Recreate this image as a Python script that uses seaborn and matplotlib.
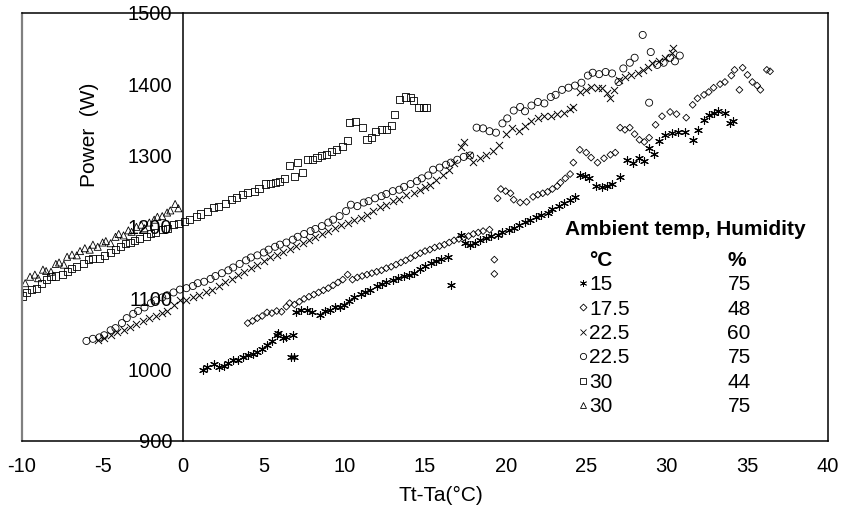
import numpy as np
import pandas as pd
import seaborn as sns
import matplotlib.pyplot as plt
from matplotlib.lines import Line2D

# ---- data ----
# 30 C / 75 %  (triangles)
tri_x = [-9.8, -9.5, -9.2, -9.0, -8.7, -8.5, -8.2, -7.9, -7.7, -7.4, -7.2, -6.9, -6.6,
         -6.4, -6.1, -5.8, -5.6, -5.3, -5.0, -4.8, -4.5, -4.2, -4.0, -3.7, -3.4, -3.2,
         -2.9, -2.6, -2.4, -2.1, -1.8, -1.6, -1.3, -1.0, -0.8, -0.5, -0.3]
tri_y = [1121, 1130, 1133, 1128, 1140, 1138, 1137, 1148, 1150, 1147, 1158, 1161, 1160,
         1166, 1170, 1168, 1175, 1172, 1178, 1180, 1177, 1186, 1190, 1188, 1195, 1193,
         1200, 1203, 1198, 1206, 1210, 1214, 1215, 1220, 1223, 1232, 1226]

# 30 C / 44 %  (squares)
sq_x = [-10.0, -9.7, -9.4, -9.1, -8.8, -8.5, -8.2, -7.9, -7.5, -7.2, -6.9, -6.6, -6.2,
        -5.9, -5.6, -5.2, -4.9, -4.5, -4.2, -3.9, -3.6, -3.3, -3.0, -2.7, -2.3, -2.0,
        -1.7, -1.3, -1.0, -0.6, -0.3, 0.1, 0.4, 0.8, 1.1, 1.5, 1.9, 2.2, 2.6, 3.0, 3.3,
        3.7, 4.0, 4.4, 4.7, 5.1, 5.4, 5.7, 6.0, 6.3, 6.6, 6.9, 7.1, 7.4, 7.7, 8.0, 8.3,
        8.6, 8.9, 9.2, 9.5, 9.9, 10.2, 10.3, 10.7, 11.1, 11.4, 11.7, 11.9, 12.3, 12.6,
        12.9, 13.1, 13.4, 13.8, 14.1, 14.3, 14.6, 14.9, 15.1]
sq_y = [1103, 1108, 1112, 1113, 1120, 1126, 1130, 1131, 1133, 1138, 1141, 1145, 1148,
        1154, 1155, 1156, 1160, 1164, 1168, 1172, 1176, 1178, 1181, 1183, 1186, 1190,
        1192, 1196, 1198, 1203, 1205, 1207, 1210, 1214, 1218, 1222, 1227, 1229, 1233,
        1238, 1241, 1245, 1248, 1250, 1254, 1260, 1261, 1262, 1263, 1268, 1286, 1270,
        1290, 1276, 1294, 1295, 1297, 1300, 1301, 1305, 1308, 1312, 1321, 1346, 1348,
        1339, 1322, 1325, 1333, 1336, 1337, 1342, 1358, 1378, 1382, 1381, 1377, 1367,
        1367, 1367]

# 22.5 C / 75 %  (circles)
circ_x = [-6.0, -5.6, -5.2, -4.9, -4.5, -4.2, -3.8, -3.5, -3.1, -2.8, -2.4, -2.0, -1.7,
          -1.3, -1.0, -0.6, -0.2, 0.2, 0.6, 0.9, 1.3, 1.7, 2.0, 2.4, 2.8, 3.1, 3.5, 3.9,
          4.2, 4.6, 5.0, 5.3, 5.7, 6.0, 6.4, 6.8, 7.1, 7.5, 7.9, 8.2, 8.6, 9.0, 9.3, 9.7,
          10.1, 10.4, 10.8, 11.2, 11.5, 11.9, 12.3, 12.6, 13.0, 13.4, 13.7, 14.1, 14.5,
          14.8, 15.2, 15.5, 15.9, 16.3, 16.6, 17.0, 17.4, 17.8, 18.2, 18.6, 19.0, 19.4,
          19.8, 20.1, 20.5, 20.9, 21.2, 21.6, 22.0, 22.4, 22.8, 23.1, 23.5, 23.9, 24.3,
          24.7, 25.1, 25.4, 25.8, 26.2, 26.6, 27.0, 27.3, 27.7, 28.0, 28.5, 28.9, 29.0,
          29.4, 29.8, 30.2, 30.5, 30.8]
circ_y = [1040, 1043, 1045, 1048, 1055, 1058, 1065, 1072, 1078, 1082, 1087, 1093, 1097,
          1101, 1104, 1108, 1112, 1114, 1117, 1121, 1123, 1127, 1131, 1135, 1139, 1143,
          1148, 1153, 1157, 1160, 1164, 1168, 1172, 1175, 1178, 1182, 1186, 1190, 1194,
          1197, 1201, 1206, 1210, 1215, 1222, 1231, 1229, 1234, 1236, 1240, 1243, 1246,
          1250, 1252, 1256, 1260, 1264, 1268, 1272, 1280, 1283, 1287, 1290, 1294, 1298,
          1300, 1339, 1338, 1334, 1332, 1345, 1352, 1363, 1368, 1362, 1370, 1375, 1373,
          1382, 1385, 1392, 1395, 1398, 1402, 1412, 1416, 1414, 1417, 1415, 1403, 1422,
          1430, 1437, 1469, 1374, 1445, 1427, 1430, 1437, 1432, 1440]

# 22.5 C / 60 %  (crosses)
crs_x = [-5.3, -4.9, -4.5, -4.1, -3.7, -3.3, -2.9, -2.5, -2.1, -1.7, -1.3, -1.0, -0.6,
         -0.2, 0.2, 0.6, 1.0, 1.4, 1.8, 2.2, 2.6, 3.0, 3.4, 3.8, 4.2, 4.6, 5.0, 5.4, 5.8,
         6.2, 6.6, 7.0, 7.4, 7.8, 8.2, 8.6, 9.0, 9.4, 9.8, 10.2, 10.6, 11.0, 11.4, 11.8,
         12.2, 12.6, 13.0, 13.4, 13.8, 14.3, 14.7, 15.0, 15.3, 15.7, 16.1, 16.5, 16.8,
         17.2, 17.4, 17.7, 18.0, 18.4, 18.8, 19.2, 19.6, 20.0, 20.4, 20.8, 21.2, 21.6,
         22.0, 22.4, 22.8, 23.2, 23.6, 24.0, 24.2, 24.6, 25.0, 25.3, 25.7, 26.0, 26.3,
         26.5, 26.7, 27.0, 27.4, 27.8, 28.2, 28.5, 28.8, 29.1, 29.5, 29.9, 30.3, 30.4]
crs_y = [1041, 1044, 1048, 1052, 1056, 1060, 1064, 1068, 1072, 1075, 1079, 1082, 1090,
         1098, 1097, 1101, 1104, 1108, 1112, 1117, 1122, 1127, 1132, 1137, 1142, 1147,
         1152, 1157, 1161, 1165, 1169, 1173, 1177, 1181, 1186, 1190, 1194, 1198, 1202,
         1206, 1209, 1212, 1217, 1222, 1228, 1231, 1236, 1239, 1244, 1248, 1252, 1256,
         1259, 1266, 1273, 1280, 1290, 1312, 1319, 1300, 1291, 1296, 1300, 1306, 1315,
         1330, 1338, 1335, 1342, 1348, 1352, 1355, 1356, 1358, 1360, 1365, 1368, 1389,
         1392, 1396, 1394, 1395, 1388, 1381, 1392, 1406, 1410, 1413, 1416, 1420, 1424,
         1430, 1433, 1437, 1444, 1451]

# 17.5 C / 48 %  (diamonds)
dia_x = [4.0, 4.3, 4.6, 4.9, 5.2, 5.5, 5.8, 6.1, 6.4, 6.6, 6.9, 7.2, 7.5, 7.8, 8.1, 8.4,
         8.7, 9.0, 9.3, 9.6, 9.9, 10.2, 10.5, 10.8, 11.1, 11.4, 11.7, 12.0, 12.3, 12.6,
         12.9, 13.2, 13.5, 13.8, 14.1, 14.4, 14.7, 15.0, 15.3, 15.6, 15.9, 16.2, 16.5,
         16.8, 17.1, 17.4, 17.7, 18.0, 18.3, 18.6, 19.0, 19.3, 19.3, 19.5, 19.7, 20.0,
         20.3, 20.5, 20.9, 21.3, 21.7, 22.0, 22.3, 22.6, 22.9, 23.2, 23.4, 23.7, 24.0,
         24.2, 24.6, 25.0, 25.3, 25.7, 26.1, 26.5, 26.8, 27.1, 27.4, 27.7, 28.0, 28.3,
         28.6, 28.9, 29.3, 29.7, 30.2, 30.6, 31.2, 31.6, 31.9, 32.3, 32.6, 32.9, 33.3,
         33.6, 34.0, 34.2, 34.5, 34.7, 35.0, 35.3, 35.6, 35.8, 36.2, 36.4]
dia_y = [1065, 1068, 1072, 1075, 1080, 1079, 1082, 1081, 1088, 1093, 1091, 1095, 1099,
         1102, 1105, 1108, 1111, 1114, 1118, 1122, 1126, 1133, 1126, 1129, 1131, 1133,
         1135, 1137, 1139, 1142, 1144, 1147, 1150, 1153, 1156, 1160, 1163, 1166, 1168,
         1171, 1173, 1175, 1178, 1181, 1183, 1185, 1187, 1190, 1192, 1194, 1196, 1154,
         1134, 1240, 1253, 1250, 1247, 1238, 1234, 1235, 1242, 1245, 1247, 1249, 1253,
         1257, 1262, 1268, 1274, 1290, 1308, 1304, 1297, 1290, 1296, 1301, 1304, 1339,
         1336, 1339, 1330, 1322, 1319, 1325, 1343, 1355, 1361, 1358, 1353, 1371, 1380,
         1385, 1389, 1395, 1400, 1403, 1412, 1420, 1392, 1423, 1413, 1403, 1398, 1392,
         1420, 1418]

# 15 C / 75 %  (asterisks)
ast_x = [1.2, 1.5, 1.9, 2.2, 2.5, 2.8, 3.1, 3.4, 3.7, 4.0, 4.3, 4.6, 4.9, 5.2, 5.5, 5.8,
         5.9, 6.2, 6.4, 6.8, 6.7, 6.9, 7.0, 7.3, 7.7, 8.0, 8.5, 8.8, 9.1, 9.4, 9.7, 10.0,
         10.3, 10.6, 11.0, 11.3, 11.6, 12.0, 12.3, 12.6, 13.0, 13.3, 13.7, 14.0, 14.3,
         14.7, 15.0, 15.4, 15.7, 16.0, 16.4, 16.6, 17.2, 17.5, 17.8, 18.1, 18.4, 18.8,
         19.1, 19.5, 19.8, 20.2, 20.5, 20.8, 21.2, 21.5, 21.9, 22.2, 22.6, 22.9, 23.3,
         23.6, 24.0, 24.3, 24.6, 24.9, 25.2, 25.6, 26.0, 26.3, 26.6, 27.1, 27.5, 27.9,
         28.3, 28.6, 28.9, 29.2, 29.5, 29.9, 30.3, 30.7, 31.1, 31.6, 31.9, 32.3, 32.6,
         32.9, 33.2, 33.6, 33.9, 34.1]
ast_y = [999, 1003, 1007, 1004, 1005, 1009, 1013, 1014, 1017, 1020, 1022, 1025, 1029,
         1034, 1040, 1048, 1051, 1044, 1046, 1048, 1017, 1017, 1081, 1083, 1084, 1080,
         1077, 1082, 1084, 1087, 1088, 1091, 1096, 1101, 1106, 1109, 1111, 1117, 1120,
         1122, 1125, 1128, 1131, 1133, 1135, 1141, 1145, 1149, 1152, 1155, 1158, 1118,
         1189, 1178, 1175, 1178, 1182, 1185, 1187, 1189, 1193, 1196, 1199, 1203, 1207,
         1210, 1214, 1217, 1220, 1225, 1229, 1234, 1238, 1242, 1273, 1271, 1268, 1257,
         1256, 1257, 1260, 1270, 1294, 1290, 1297, 1292, 1310, 1302, 1320, 1329, 1331,
         1333, 1333, 1322, 1336, 1350, 1357, 1360, 1363, 1360, 1346, 1348]

legend_temp = ['15', '17.5', '22.5', '22.5', '30', '30']
legend_hum = ['75', '48', '60', '75', '44', '75']

asterisk = (6, 2, 0)

sns.set_style('white')
plt.rcParams['font.family'] = ['Liberation Sans', 'DejaVu Sans']
plt.rcParams['axes.unicode_minus'] = False
for key in ['text.color', 'axes.labelcolor', 'xtick.color', 'ytick.color']:
    plt.rcParams[key] = 'black'

fig = plt.figure(figsize=(8.45, 5.12), dpi=100)
ax = fig.add_axes([0.026, 0.139, 0.954, 0.836])

# hollow markers
sns.scatterplot(x=tri_x, y=tri_y, ax=ax, marker='^', s=26, facecolor='none',
                edgecolor='black', linewidth=0.6)
sns.scatterplot(x=sq_x, y=sq_y, ax=ax, marker='s', s=26, facecolor='none',
                edgecolor='black', linewidth=0.6)
sns.scatterplot(x=circ_x, y=circ_y, ax=ax, marker='o', s=26, facecolor='none',
                edgecolor='black', linewidth=0.6)
sns.scatterplot(x=dia_x, y=dia_y, ax=ax, marker='D', s=12, facecolor='none',
                edgecolor='black', linewidth=0.6)
# line-art markers
sns.scatterplot(x=crs_x, y=crs_y, ax=ax, marker='x', s=26, color='black', linewidth=0.7)
sns.scatterplot(x=ast_x, y=ast_y, ax=ax, marker=asterisk, s=32, color='black',
                linewidth=0.8)

ax.set_xlim(-10, 40)
ax.set_ylim(900, 1500)
ax.set_xticks(np.arange(-10, 41, 5))
ax.set_yticks(np.arange(900, 1501, 100))

# y axis sits at x = 0, grey frame line at the left edge
ax.spines['left'].set_position(('data', 0))
for side in ['left', 'right', 'top', 'bottom']:
    ax.spines[side].set_color('black')
    ax.spines[side].set_linewidth(1.1)
ax.axvline(-10, color='0.5', lw=1.6, clip_on=False)

ax.tick_params(axis='y', direction='in', length=5, width=1, pad=8, labelsize=14.5)
ax.tick_params(axis='x', direction='in', length=5, width=1, pad=12, labelsize=14.5)

ax.set_xlabel('Tt-Ta(°C)', fontsize=15)
ax.set_ylabel('Power  (W)', fontsize=15)
ax.yaxis.set_label_coords(0.096, 0.715)
ax.xaxis.set_label_coords(0.52, -0.105)

# legend: two columns, temperature with marker / humidity
mk = dict(linestyle='none', markerfacecolor='none', markeredgecolor='black',
          markeredgewidth=0.6, color='black')
handles = [Line2D([], [], linestyle='none'),
           Line2D([], [], marker=asterisk, markersize=5, **mk),
           Line2D([], [], marker='D', markersize=3.5, **mk),
           Line2D([], [], marker='x', markersize=4.5, **mk),
           Line2D([], [], marker='o', markersize=4.5, **mk),
           Line2D([], [], marker='s', markersize=4.5, **mk),
           Line2D([], [], marker='^', markersize=4.5, **mk)]
handles += [Line2D([], [], linestyle='none') for _ in range(7)]
labels = ['°C'] + legend_temp + ['%'] + legend_hum

leg = ax.legend(handles, labels, ncol=2, loc='upper left',
                bbox_to_anchor=(0.6895, 0.444), frameon=False, borderpad=0,
                borderaxespad=0, handlelength=0.5, handletextpad=0.05,
                columnspacing=4.13, labelspacing=0.26, fontsize=15)
leg.get_texts()[0].set_fontweight('bold')
leg.get_texts()[7].set_fontweight('bold')

ax.text(0.8226, 0.493, 'Ambient temp, Humidity', transform=ax.transAxes,
        ha='center', va='center', fontsize=15, fontweight='bold')

plt.savefig('out.png', dpi=100)
